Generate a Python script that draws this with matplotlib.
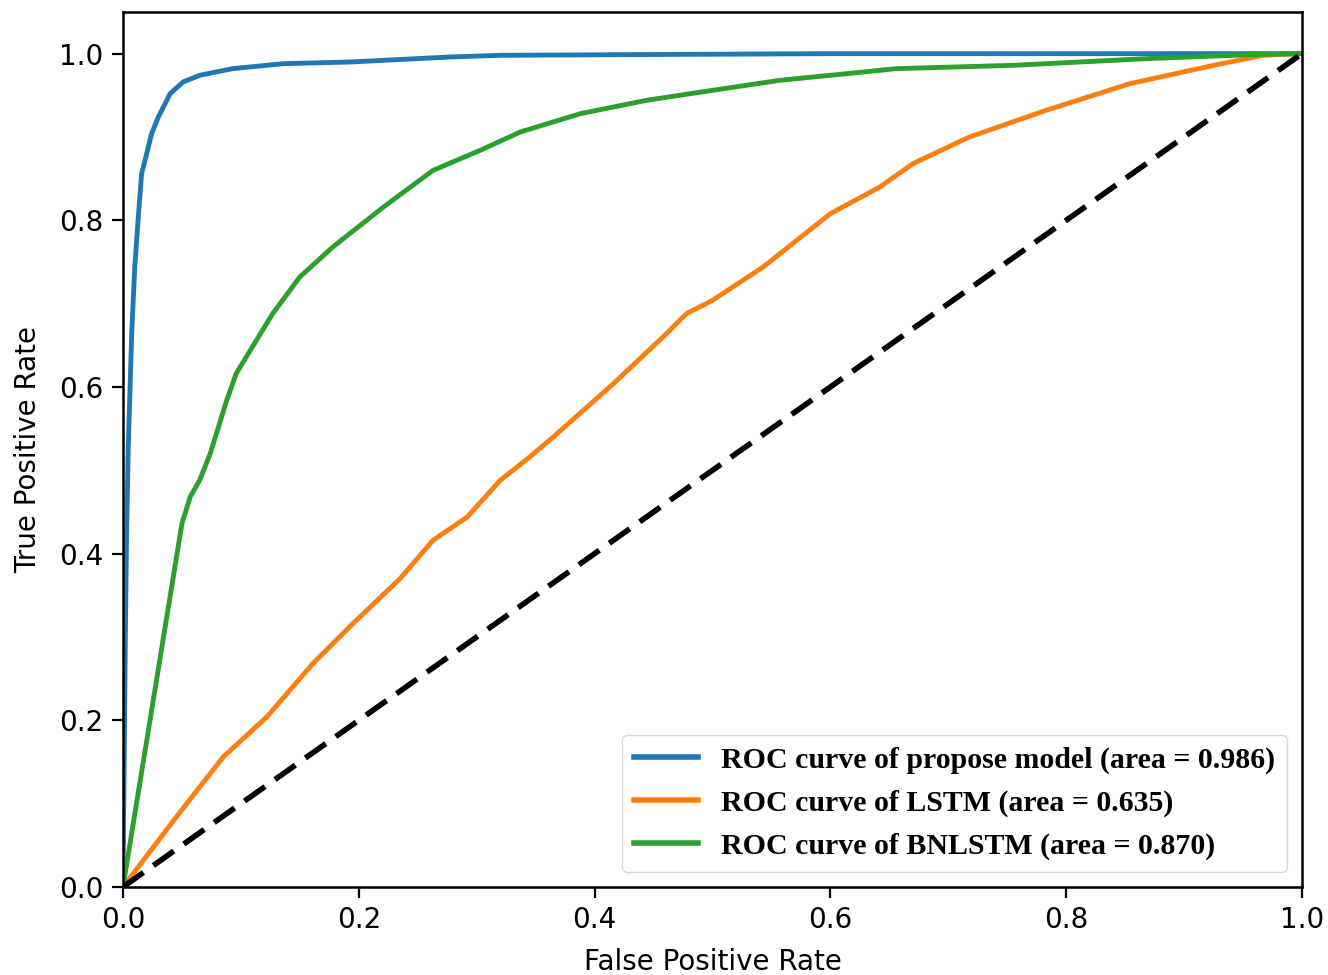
import matplotlib
matplotlib.use("Agg")
import matplotlib.pyplot as plt

# Proposed model ROC
fpr_prop = [0, 0.001, 0.002, 0.003, 0.0045, 0.0074, 0.010, 0.013, 0.0158, 0.0187,
            0.0243, 0.030, 0.040, 0.051, 0.065, 0.093, 0.136, 0.193, 0.277, 0.32,
            0.45, 0.6, 1.0]
tpr_prop = [0, 0.15, 0.30, 0.42, 0.528, 0.664, 0.744, 0.804, 0.856, 0.872,
            0.904, 0.924, 0.952, 0.966, 0.974, 0.982, 0.988, 0.990, 0.996, 0.998,
            0.999, 1.0, 1.0]

# LSTM ROC
fpr_lstm = [0, 0.048, 0.085, 0.122, 0.161, 0.195, 0.235, 0.263, 0.292, 0.320,
            0.345, 0.365, 0.416, 0.458, 0.478, 0.500, 0.543, 0.600, 0.642, 0.670,
            0.718, 0.783, 0.854, 0.925, 0.967, 1.0]
tpr_lstm = [0, 0.089, 0.156, 0.204, 0.268, 0.316, 0.370, 0.416, 0.444, 0.488,
            0.516, 0.540, 0.604, 0.660, 0.688, 0.704, 0.744, 0.808, 0.840, 0.868,
            0.900, 0.932, 0.964, 0.986, 0.998, 1.0]

# BNLSTM ROC
fpr_bn = [0, 0.050, 0.057, 0.065, 0.074, 0.088, 0.096, 0.108, 0.127, 0.150,
          0.178, 0.221, 0.263, 0.303, 0.337, 0.388, 0.444, 0.500, 0.557, 0.614,
          0.656, 0.755, 0.868, 0.96, 1.0]
tpr_bn = [0, 0.436, 0.468, 0.488, 0.520, 0.584, 0.616, 0.644, 0.688, 0.732,
          0.768, 0.816, 0.860, 0.884, 0.906, 0.928, 0.944, 0.956, 0.968, 0.976,
          0.982, 0.986, 0.994, 0.999, 1.0]

labels = ["ROC curve of propose model (area = 0.986)",
          "ROC curve of LSTM (area = 0.635)",
          "ROC curve of BNLSTM (area = 0.870)"]
colors = ["#1f77b4", "#ff7f0e", "#2ca02c"]

fig = plt.figure(figsize=(13.28, 9.75), dpi=100)
ax = fig.add_axes([0.0926, 0.0903, 0.8878, 0.8974])

ax.plot(fpr_prop, tpr_prop, color=colors[0], lw=3.5, label=labels[0])
ax.plot(fpr_lstm, tpr_lstm, color=colors[1], lw=3.5, label=labels[1])
ax.plot(fpr_bn, tpr_bn, color=colors[2], lw=3.5, label=labels[2])
ax.plot([0, 1], [0, 1], color="black", lw=4, linestyle=(0, (4.5, 2.2)))

ax.set_xlim(0, 1.0)
ax.set_ylim(0, 1.05)
ax.set_xticks([0.0, 0.2, 0.4, 0.6, 0.8, 1.0])
ax.set_yticks([0.0, 0.2, 0.4, 0.6, 0.8, 1.0])
ax.tick_params(labelsize=20, length=8, width=1.6, pad=6)
for s in ax.spines.values():
    s.set_linewidth(1.8)

ax.set_xlabel("False Positive Rate", fontsize=20, labelpad=10)
ax.set_ylabel("True Positive Rate", fontsize=20, labelpad=12)

leg = ax.legend(loc="lower right",
                prop={"family": "Liberation Serif", "weight": "bold", "size": 21.5},
                handlelength=2.14, handletextpad=0.77, borderpad=0.4,
                labelspacing=0.53, framealpha=0.8)
for h in leg.get_lines():
    h.set_linewidth(4)

fig.savefig("out.png", dpi=100)
